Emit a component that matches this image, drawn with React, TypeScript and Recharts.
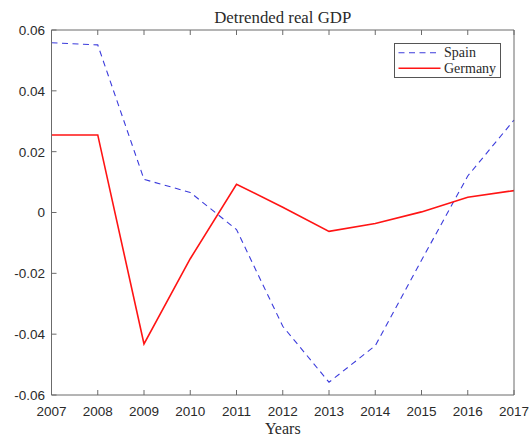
import React from 'react';
import { LineChart, Line, XAxis, YAxis, Legend, Label } from 'recharts';

// Detrended real GDP (share of trend), annual
const years = [2007, 2008, 2009, 2010, 2011, 2012, 2013, 2014, 2015, 2016, 2017];
const spain = [0.0558, 0.0551, 0.0109, 0.0066, -0.0056, -0.0374, -0.0558, -0.0438, -0.0157, 0.012, 0.0304];
const germany = [0.0255, 0.0255, -0.0432, -0.0152, 0.0093, 0.0017, -0.0062, -0.0036, 0.0002, 0.005, 0.0072];
const yTicks = [-0.06, -0.04, -0.02, 0, 0.02, 0.04, 0.06];
const xTicks = years;

const data = years.map((year, i) => ({ year, Spain: spain[i], Germany: germany[i] }));

const AXIS = '#6b6b6b';
const TEXT = '#2a2a2a';
const SANS = '"Liberation Sans", Arial, Helvetica, sans-serif';
const SERIF = '"Liberation Serif", "Times New Roman", serif';
const TICK = 5;

const series = [
  { key: 'Spain', color: '#3c3cdc', width: 1.1, dash: '6 4.5' },
  { key: 'Germany', color: '#ff1414', width: 1.6, dash: undefined as string | undefined },
];

const fmtY = (v: number) => (Math.abs(v) < 1e-9 ? '0' : v.toFixed(2));

const BottomTick = (p: any) => (
  <g>
    <line x1={p.x} y1={p.y} x2={p.x} y2={p.y - TICK} stroke={AXIS} strokeWidth={1} />
    <text x={p.x} y={p.y + 20.5} textAnchor="middle" fontFamily={SANS} fontSize={13.5} fill={TEXT}>
      {p.payload.value}
    </text>
  </g>
);

const TopTick = (p: any) => (
  <line x1={p.x} y1={p.y} x2={p.x} y2={p.y + TICK} stroke={AXIS} strokeWidth={1} />
);

const LeftTick = (p: any) => (
  <g>
    <line x1={p.x} y1={p.y} x2={p.x + TICK} y2={p.y} stroke={AXIS} strokeWidth={1} />
    <text x={p.x - 6.5} y={p.y} dy="0.36em" textAnchor="end" fontFamily={SANS} fontSize={13.5} fill={TEXT}>
      {fmtY(p.payload.value)}
    </text>
  </g>
);

const RightTick = (p: any) => (
  <line x1={p.x} y1={p.y} x2={p.x - TICK} y2={p.y} stroke={AXIS} strokeWidth={1} />
);

const LegendBox = () => (
  <svg width={107} height={35} style={{ display: 'block' }}>
    <rect x={0.5} y={0.5} width={106} height={34} fill="#fff" stroke="#555" strokeWidth={1} />
    {series.map((s, i) => (
      <g key={s.key}>
        <line
          x1={4.5}
          x2={46.5}
          y1={9.7 + i * 15.6}
          y2={9.7 + i * 15.6}
          stroke={s.color}
          strokeWidth={s.width}
          strokeDasharray={s.dash}
        />
        <text x={50} y={13.9 + i * 15.6} fontFamily={SERIF} fontSize={14} fill={TEXT}>
          {s.key}
        </text>
      </g>
    ))}
  </svg>
);

export default function App() {
  return (
    <div style={{ position: 'absolute', left: 0, top: 0, background: '#fff' }}>
      <LineChart width={532} height={438} data={data} margin={{ top: 0, right: 0, bottom: 0, left: 0 }}>
        <XAxis
          xAxisId="bottom"
          dataKey="year"
          type="number"
          domain={[2007, 2017]}
          ticks={xTicks}
          orientation="bottom"
          height={43}
          tickSize={0}
          tickMargin={0}
          tickLine={false}
          axisLine={{ stroke: AXIS, strokeWidth: 1 }}
          tick={BottomTick}
          interval={0}
        >
          <Label
            position="center"
            content={(p: any) => (
              <text
                x={p.viewBox.x + p.viewBox.width / 2}
                y={p.viewBox.y + 38.5}
                textAnchor="middle"
                fontFamily={SERIF}
                fontSize={16}
                fill={TEXT}
              >
                Years
              </text>
            )}
          />
        </XAxis>
        <XAxis
          xAxisId="top"
          dataKey="year"
          type="number"
          domain={[2007, 2017]}
          ticks={xTicks}
          orientation="top"
          height={30}
          tickSize={0}
          tickMargin={0}
          tickLine={false}
          axisLine={{ stroke: AXIS, strokeWidth: 1 }}
          tick={TopTick}
          interval={0}
        >
          <Label
            position="center"
            content={(p: any) => (
              <text
                x={p.viewBox.x + p.viewBox.width / 2}
                y={p.viewBox.y + 23}
                textAnchor="middle"
                fontFamily={SERIF}
                fontSize={16.8}
                fill={TEXT}
              >
                Detrended real GDP
              </text>
            )}
          />
        </XAxis>
        <YAxis
          yAxisId="left"
          type="number"
          domain={[-0.06, 0.06]}
          ticks={yTicks}
          orientation="left"
          width={51.5}
          tickSize={0}
          tickMargin={0}
          tickLine={false}
          axisLine={{ stroke: AXIS, strokeWidth: 1 }}
          tick={LeftTick}
          interval={0}
        />
        <YAxis
          yAxisId="right"
          type="number"
          domain={[-0.06, 0.06]}
          ticks={yTicks}
          orientation="right"
          width={18}
          tickSize={0}
          tickMargin={0}
          tickLine={false}
          axisLine={{ stroke: AXIS, strokeWidth: 1 }}
          tick={RightTick}
          interval={0}
        />
        {series.map((s) => (
          <Line
            key={s.key}
            xAxisId="bottom"
            yAxisId="left"
            dataKey={s.key}
            type="linear"
            stroke={s.color}
            strokeWidth={s.width}
            strokeDasharray={s.dash}
            dot={false}
            activeDot={false}
            isAnimationActive={false}
          />
        ))}
        <Legend
          layout="vertical"
          align="center"
          verticalAlign="middle"
          wrapperStyle={{ position: 'absolute', left: 394, top: 43, width: 107, height: 35 }}
          content={() => <LegendBox />}
        />
      </LineChart>
    </div>
  );
}
